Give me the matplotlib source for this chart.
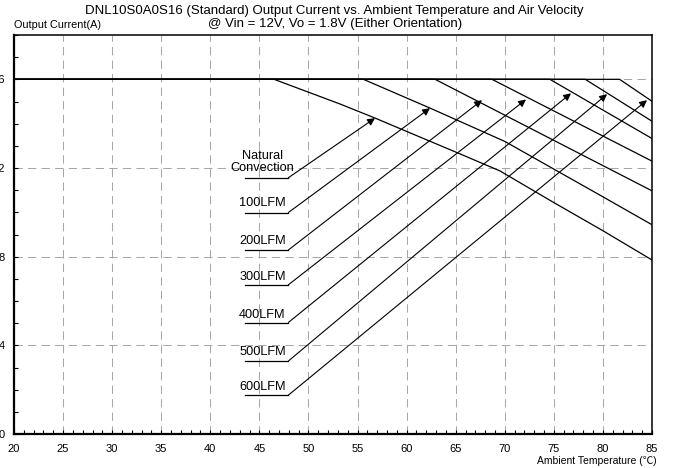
import matplotlib.pyplot as plt
from matplotlib.ticker import MultipleLocator

plt.rcParams['font.family'] = ['Liberation Sans', 'Noto Sans CJK SC', 'DejaVu Sans']

# derating curves (ambient temperature in degC, output current in A)
t_nat = [20, 46.5, 53.2, 56.8, 60, 65, 69.5, 75, 80, 85]
i_nat = [16, 16, 14.89, 14.25, 13.65, 12.72, 11.87, 10.44, 9.17, 7.85]
t_100 = [20, 55.6, 62.4, 70, 75, 80, 85]
i_100 = [16, 16, 14.70, 13.20, 11.95, 10.70, 9.44]
t_200 = [20, 62.9, 85]
i_200 = [16, 16, 10.97]
t_300 = [20, 68.7, 85]
i_300 = [16, 16, 12.31]
t_400 = [20, 74.6, 85]
i_400 = [16, 16, 13.33]
t_500 = [20, 78.2, 85]
i_500 = [16, 16, 14.11]
t_600 = [20, 81.7, 85]
i_600 = [16, 16, 15.01]

curves = [(t_nat, i_nat), (t_100, i_100), (t_200, i_200), (t_300, i_300),
          (t_400, i_400), (t_500, i_500), (t_600, i_600)]

# labels with their underline level and arrow tip
labels = ['Natural\nConvection', '100LFM', '200LFM', '300LFM', '400LFM', '500LFM', '600LFM']
label_y = [12.27, 10.40, 8.72, 7.07, 5.39, 3.70, 2.13]
underline_y = [11.56, 9.99, 8.30, 6.73, 5.03, 3.29, 1.75]
tip_t = [56.78, 62.38, 67.68, 72.16, 76.75, 80.42, 84.49]
tip_i = [14.25, 14.70, 15.06, 15.09, 15.37, 15.33, 15.06]
line_left, line_right, label_x = 43.5, 47.95, 45.3

fig = plt.figure(figsize=(6.75, 4.68), dpi=100)
ax = fig.add_axes([14 / 675, 1 - 434 / 468, 638 / 675, 399 / 468])

for t, i in curves:
    ax.plot(t, i, color='black', lw=0.9, solid_joinstyle='miter')

for lab, ly, uy, tx, ty in zip(labels, label_y, underline_y, tip_t, tip_i):
    ax.text(label_x, ly, lab, ha='center', va='center', fontsize=9.2,
            linespacing=1.1)
    ax.plot([line_left, line_right], [uy, uy], color='black', lw=0.9)
    ax.annotate('', xy=(tx, ty), xytext=(line_right, uy),
                arrowprops=dict(arrowstyle='-|>', color='black', lw=0.8,
                                mutation_scale=11, shrinkA=0, shrinkB=0))

ax.set_xlim(20, 85)
ax.set_ylim(0, 18)
ax.xaxis.set_major_locator(MultipleLocator(5))
ax.xaxis.set_minor_locator(MultipleLocator(1))
ax.yaxis.set_major_locator(MultipleLocator(4))
ax.yaxis.set_minor_locator(MultipleLocator(1))
ax.tick_params(which='both', direction='in', length=3, width=0.8,
               top=False, right=False, labelsize=8)
ax.tick_params(axis='x', pad=7)
ax.tick_params(axis='y', pad=6.5)
ax.grid(True, which='major', color='#a8a8a8', lw=0.75, linestyle=(0, (8, 5)))
for side in ['left', 'bottom']:
    ax.spines[side].set_linewidth(1.6)
for side in ['top', 'right']:
    ax.spines[side].set_linewidth(1.1)

fig.text(334 / 675, 1 - 11 / 468,
         'DNL10S0A0S16 (Standard) Output Current vs. Ambient Temperature and Air Velocity',
         ha='center', va='center', fontsize=9.5)
fig.text(335 / 675, 1 - 24 / 468, '@ Vin = 12V, Vo = 1.8V (Either Orientation)',
         ha='center', va='center', fontsize=9.5)
fig.text(14 / 675, 1 - 25 / 468, 'Output Current(A)', ha='left', va='center', fontsize=7.8)
fig.text(657 / 675, 1 - 461 / 468, 'Ambient Temperature (℃)', ha='right', va='center',
         fontsize=7.5)

fig.savefig('out.png', dpi=100)
